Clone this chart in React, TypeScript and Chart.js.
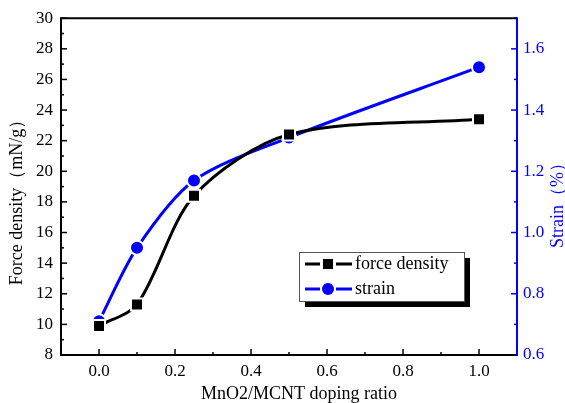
import React, { useEffect, useRef } from "react";
import { Chart, registerables } from "chart.js";

Chart.register(...registerables);

const ratios = [0, 0.1, 0.25, 0.5, 1.0];
const forceDensity = [9.9, 11.3, 18.4, 22.4, 23.4];
const strain = [0.71, 0.95, 1.17, 1.31, 1.54];

const xTicks = [0, 0.2, 0.4, 0.6, 0.8, 1.0];
const xMinor = [-0.1, 0.1, 0.3, 0.5, 0.7, 0.9, 1.1];
const yTicks = [8, 10, 12, 14, 16, 18, 20, 22, 24, 26, 28, 30];
const yMinor = [9, 11, 13, 15, 17, 19, 21, 23, 25, 27, 29];
const y1Ticks = [0.6, 0.8, 1.0, 1.2, 1.4, 1.6];
const y1Minor = [0.7, 0.9, 1.1, 1.3, 1.5, 1.7];

const xTitle = "MnO2/MCNT doping ratio";
const yTitle = "Force density（mN/g）";
const y1Title = "Strain（%）";
const seriesLabels = ["force density", "strain"];

const FONT = "'Liberation Serif', 'Times New Roman', serif";
const BLUE = "#0000ff";
const BLACK = "#000000";

function drawMarker(ctx: CanvasRenderingContext2D, style: string, x: number, y: number, color: string) {
  ctx.save();
  ctx.fillStyle = color;
  ctx.strokeStyle = "#ffffff";
  ctx.lineWidth = 2;
  if (style === "rect") {
    ctx.beginPath();
    ctx.rect(x - 6, y - 6, 12, 12);
    ctx.fill();
    ctx.stroke();
  } else {
    ctx.beginPath();
    ctx.arc(x, y, 7, 0, Math.PI * 2);
    ctx.fill();
    ctx.stroke();
  }
  ctx.restore();
}

const framePlugin = {
  id: "framePlugin",
  afterDraw(chart: any) {
    const ctx: CanvasRenderingContext2D = chart.ctx;
    const { left, right, top, bottom } = chart.chartArea;
    const xs = chart.scales.x;
    const ys = chart.scales.y;
    const y1s = chart.scales.y1;
    ctx.save();
    // ticks
    ctx.lineWidth = 1.5;
    ctx.strokeStyle = BLACK;
    const tickX = (vals: number[], len: number) => {
      vals.forEach((v) => {
        const px = xs.getPixelForValue(v);
        ctx.beginPath();
        ctx.moveTo(px, bottom);
        ctx.lineTo(px, bottom - len);
        ctx.stroke();
      });
    };
    tickX(xTicks, 6);
    tickX(xMinor, 3);
    const tickY = (vals: number[], len: number) => {
      vals.forEach((v) => {
        const py = ys.getPixelForValue(v);
        ctx.beginPath();
        ctx.moveTo(left, py);
        ctx.lineTo(left + len, py);
        ctx.stroke();
      });
    };
    tickY(yTicks, 6);
    tickY(yMinor, 3);
    ctx.strokeStyle = BLUE;
    const tickY1 = (vals: number[], len: number) => {
      vals.forEach((v) => {
        const py = y1s.getPixelForValue(v);
        ctx.beginPath();
        ctx.moveTo(right, py);
        ctx.lineTo(right - len, py);
        ctx.stroke();
      });
    };
    tickY1(y1Ticks, 6);
    tickY1(y1Minor, 3);

    // frame
    ctx.lineWidth = 2;
    ctx.strokeStyle = BLACK;
    ctx.beginPath();
    ctx.moveTo(right, top);
    ctx.lineTo(left, top);
    ctx.lineTo(left, bottom);
    ctx.lineTo(right, bottom);
    ctx.stroke();
    ctx.strokeStyle = BLUE;
    ctx.beginPath();
    ctx.moveTo(right, top - 1);
    ctx.lineTo(right, bottom + 1);
    ctx.stroke();

    // titles
    ctx.fillStyle = BLACK;
    ctx.font = `18px ${FONT}`;
    ctx.textAlign = "center";
    ctx.textBaseline = "middle";
    ctx.fillText(xTitle, 299, 394);
    ctx.save();
    ctx.translate(17, 198);
    ctx.rotate(-Math.PI / 2);
    ctx.fillText(yTitle, 0, 0);
    ctx.restore();
    ctx.save();
    ctx.fillStyle = BLUE;
    ctx.translate(558, 201);
    ctx.rotate(-Math.PI / 2);
    ctx.fillText(y1Title, 0, 0);
    ctx.restore();

    // legend
    const lx = 299, ly = 252, lw = 165, lh = 49;
    ctx.fillStyle = BLACK;
    ctx.fillRect(lx + 6, ly + 6, lw, lh);
    ctx.fillStyle = "#ffffff";
    ctx.fillRect(lx, ly, lw, lh);
    ctx.strokeStyle = "#555555";
    ctx.lineWidth = 1;
    ctx.strokeRect(lx + 0.5, ly + 0.5, lw, lh);
    const rows = [
      { label: seriesLabels[0], color: BLACK, style: "rect", y: 264 },
      { label: seriesLabels[1], color: BLUE, style: "circle", y: 289 },
    ];
    rows.forEach((r) => {
      ctx.strokeStyle = r.color;
      ctx.lineWidth = 3;
      ctx.beginPath();
      ctx.moveTo(305, r.y);
      ctx.lineTo(320, r.y);
      ctx.moveTo(336, r.y);
      ctx.lineTo(352, r.y);
      ctx.stroke();
      drawMarker(ctx, r.style, 328, r.y, r.color);
      ctx.fillStyle = BLACK;
      ctx.font = `18px ${FONT}`;
      ctx.textAlign = "left";
      ctx.textBaseline = "middle";
      ctx.fillText(r.label, 355, r.y);
    });
    ctx.restore();
  },
};

export default function App() {
  const ref = useRef<HTMLCanvasElement>(null);
  useEffect(() => {
    if (!ref.current) return;
    const chart = new Chart(ref.current, {
      type: "line",
      data: {
        datasets: [
          {
            label: seriesLabels[0],
            data: ratios.map((x, i) => ({ x, y: forceDensity[i] })),
            borderColor: BLACK,
            backgroundColor: BLACK,
            borderWidth: 3,
            pointStyle: "rect",
            pointRadius: 8.5,
            pointBorderColor: "#ffffff",
            pointBorderWidth: 2,
            tension: 0.3,
            yAxisID: "y",
          },
          {
            label: seriesLabels[1],
            data: ratios.map((x, i) => ({ x, y: strain[i] })),
            borderColor: BLUE,
            backgroundColor: BLUE,
            borderWidth: 3,
            pointStyle: "circle",
            pointRadius: 7,
            pointBorderColor: "#ffffff",
            pointBorderWidth: 2,
            tension: 0.3,
            yAxisID: "y1",
          },
        ],
      },
      options: {
        animation: false,
        responsive: true,
        maintainAspectRatio: false,
        layout: { padding: { top: 17, left: 0, right: 0, bottom: 0 } },
        plugins: { legend: { display: false }, tooltip: { enabled: false } },
        scales: {
          x: {
            type: "linear",
            min: -0.1,
            max: 1.1,
            grid: { display: false, drawTicks: false },
            border: { display: false },
            afterBuildTicks: (s: any) => {
              s.ticks = xTicks.map((v) => ({ value: v }));
            },
            afterFit: (s: any) => {
              s.height = 48;
            },
            ticks: {
              padding: 6,
              color: BLACK,
              font: { family: FONT, size: 17 },
              callback: (v: any) => Number(v).toFixed(1),
            },
          },
          y: {
            type: "linear",
            position: "left",
            min: 8,
            max: 30,
            grid: { display: false, drawTicks: false },
            border: { display: false },
            afterBuildTicks: (s: any) => {
              s.ticks = yTicks.map((v) => ({ value: v }));
            },
            afterFit: (s: any) => {
              s.width = 61;
            },
            ticks: {
              padding: 8,
              color: BLACK,
              font: { family: FONT, size: 17 },
              callback: (v: any) => String(v),
            },
          },
          y1: {
            type: "linear",
            position: "right",
            min: 0.6,
            max: 1.7,
            grid: { display: false, drawTicks: false },
            border: { display: false },
            afterBuildTicks: (s: any) => {
              s.ticks = y1Ticks.map((v) => ({ value: v }));
            },
            afterFit: (s: any) => {
              s.width = 48;
            },
            ticks: {
              padding: 6,
              color: BLUE,
              font: { family: FONT, size: 17 },
              callback: (v: any) => Number(v).toFixed(1),
            },
          },
        },
      },
      plugins: [framePlugin],
    });
    return () => chart.destroy();
  }, []);
  return (
    <div style={{ position: "fixed", left: 0, top: 0, width: 565, height: 403, background: "#fff" }}>
      <canvas ref={ref} />
    </div>
  );
}
